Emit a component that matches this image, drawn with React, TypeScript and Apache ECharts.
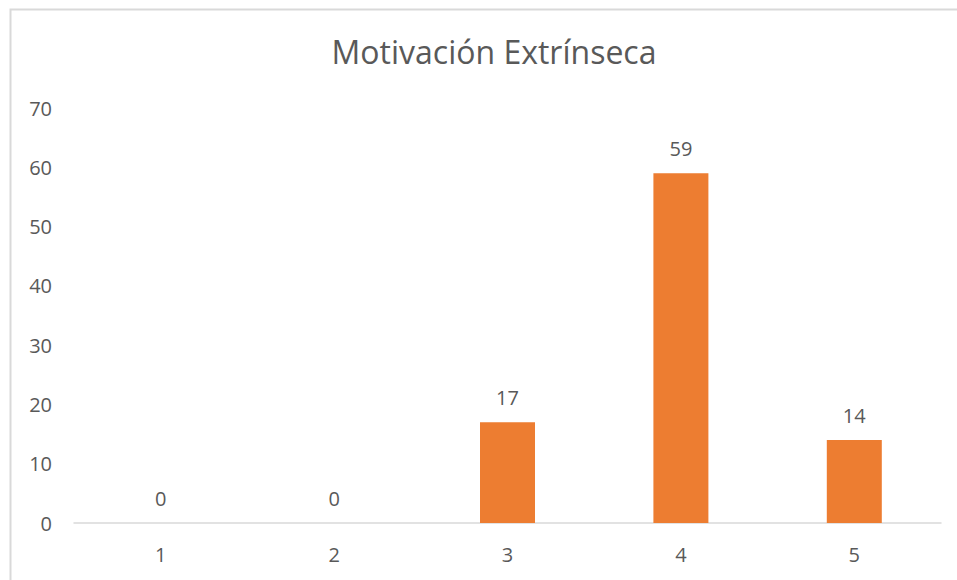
import React, { useEffect, useRef } from "react";
import * as echarts from "echarts";

const categories = ["1", "2", "3", "4", "5"];
const values = [0, 0, 17, 59, 14];
const titleText = "Motivación Extrínseca";

export default function App() {
  const ref = useRef<HTMLDivElement>(null);
  useEffect(() => {
    if (!ref.current) return;
    const chart = echarts.init(ref.current, null, { renderer: "svg" });
    const font = "'Open Sans', 'Noto Sans', sans-serif";
    chart.setOption({
      animation: false,
      backgroundColor: "#ffffff",
      title: {
        text: titleText,
        left: 489,
        textAlign: "center",
        top: 30,
        textStyle: { color: "#595959", fontSize: 32, fontWeight: "normal", fontFamily: font },
      },
      graphic: [
        {
          type: "rect",
          shape: { x: 10.5, y: 9.5, width: 1000, height: 1000 },
          style: { fill: "none", stroke: "#D9D9D9", lineWidth: 2 },
          silent: true,
        },
      ],
      grid: { left: 74, right: 16, top: 108, bottom: 57 },
      xAxis: {
        type: "category",
        data: categories,
        axisLine: { lineStyle: { color: "#D9D9D9", width: 1.5 } },
        axisTick: { show: false },
        axisLabel: { color: "#595959", fontSize: 20, fontFamily: font, margin: 21 },
      },
      yAxis: {
        type: "value",
        min: 0,
        max: 70,
        interval: 10,
        splitLine: { show: false },
        axisLine: { show: false },
        axisTick: { show: false },
        axisLabel: { color: "#595959", fontSize: 20, fontFamily: font, margin: 22 },
      },
      series: [
        {
          type: "bar",
          data: values,
          barWidth: 55,
          itemStyle: { color: "#ED7D31" },
          label: {
            show: true,
            position: "top",
            distance: 15,
            color: "#595959",
            fontSize: 20,
            fontFamily: font,
          },
        },
      ],
    });
    return () => chart.dispose();
  }, []);
  return (
    <div
      ref={ref}
      style={{ position: "fixed", left: 0, top: 0, width: 957, height: 580 }}
    />
  );
}
